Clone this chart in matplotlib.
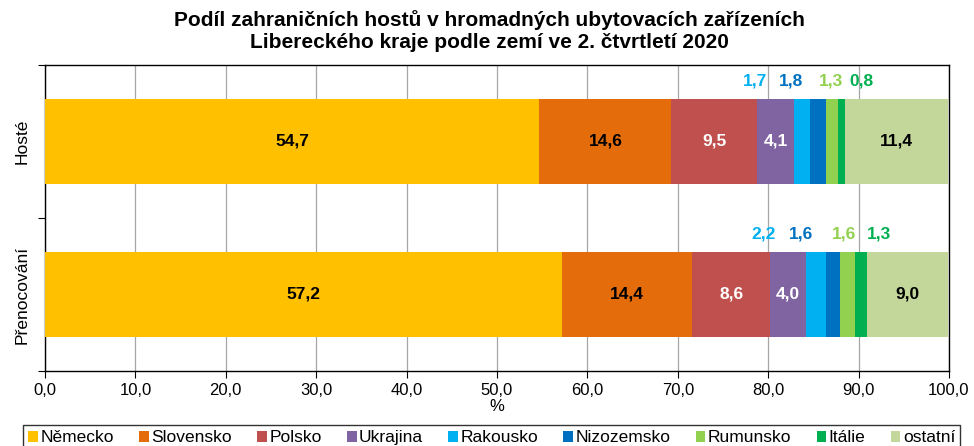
import numpy as np
import matplotlib
matplotlib.use("Agg")
import matplotlib.pyplot as plt

plt.rcParams['font.family'] = ['Liberation Sans', 'DejaVu Sans']

# --- DATA ---
rows = ['Hosté', 'Přenocování']
countries = ['Německo', 'Slovensko', 'Polsko', 'Ukrajina', 'Rakousko',
             'Nizozemsko', 'Rumunsko', 'Itálie', 'ostatní']
hoste = [54.7, 14.6, 9.5, 4.1, 1.7, 1.8, 1.3, 0.8, 11.4]
prenoc = [57.2, 14.4, 8.6, 4.0, 2.2, 1.6, 1.6, 1.3, 9.0]
colors = ['#FFC000', '#E46C0A', '#C0504D', '#8064A2', '#00B0F0',
          '#0070C0', '#92D050', '#00B050', '#C4D79B']
# label colour inside bars (None = label above the bar in segment colour)
inside_col = ['black', 'black', 'white', 'white', None, None, None, None, 'black']
# horizontal shift (px) of the small labels above the bar
shift_px = [[0, 0, 0, 0, -47, -27, -1, 20, 0],
            [0, 0, 0, 0, -53, -32, -4, 18, 0]]
# ---------------------

def fmt(v):
    return f"{v:.1f}".replace('.', ',')

fig = plt.figure(figsize=(9.74, 4.46), dpi=100)
ax = fig.add_axes([0.0462, 0.1682, 0.9281, 0.6861])

data = [hoste, prenoc]
bar_h = 0.555
for r, vals in enumerate(data):
    left = 0.0
    for i, v in enumerate(vals):
        ax.barh(r, v, left=left, height=bar_h, color=colors[i],
                label=countries[i] if r == 0 else None, zorder=3)
        cx = left + v / 2
        if inside_col[i] is not None:
            ax.text(cx, r, fmt(v), ha='center', va='center', fontsize=12.5,
                    fontweight='bold', color=inside_col[i], zorder=4)
        else:
            ax.annotate(fmt(v), (cx, r - bar_h / 2), xytext=(shift_px[r][i] * 0.72, 13),
                        textcoords='offset points', ha='center', va='center',
                        fontsize=12.5, fontweight='bold', color=colors[i], zorder=4)
        left += v

ax.set_xlim(0, 100)
ax.set_ylim(1.5, -0.5)
ax.set_xticks(np.arange(0, 101, 10))
ax.set_xticklabels([fmt(t) for t in np.arange(0, 101, 10)], fontsize=12)
ax.set_yticks([-0.5, 0.5, 1.5])
ax.set_yticklabels([])
ax.set_yticks([0, 1], minor=True)
ax.set_yticklabels(rows, minor=True, rotation=90, va='center', fontsize=12.5)
ax.tick_params(axis='y', which='minor', length=0, pad=11)
ax.tick_params(axis='both', which='major', length=5, direction='out')
ax.grid(axis='x', color='#A6A6A6', lw=0.9, zorder=0)
ax.set_xlabel('%', fontsize=12, labelpad=1)
for s in ax.spines.values():
    s.set_linewidth(1.0)

fig.suptitle('Podíl zahraničních hostů v hromadných ubytovacích zařízeních\n'
             'Libereckého kraje podle zemí ve 2. čtvrtletí 2020',
             fontsize=15, fontweight='bold', y=0.978, x=0.503, linespacing=1.2)

leg = fig.legend(loc='lower center', bbox_to_anchor=(0.505, -0.03), ncol=9,
                 fontsize=12.5, frameon=True, fancybox=False, edgecolor='black',
                 handlelength=0.55, handleheight=0.55, handletextpad=0.15,
                 columnspacing=1.45, borderpad=0.3)
leg.get_frame().set_linewidth(1.0)

fig.savefig('out.png', dpi=100)
